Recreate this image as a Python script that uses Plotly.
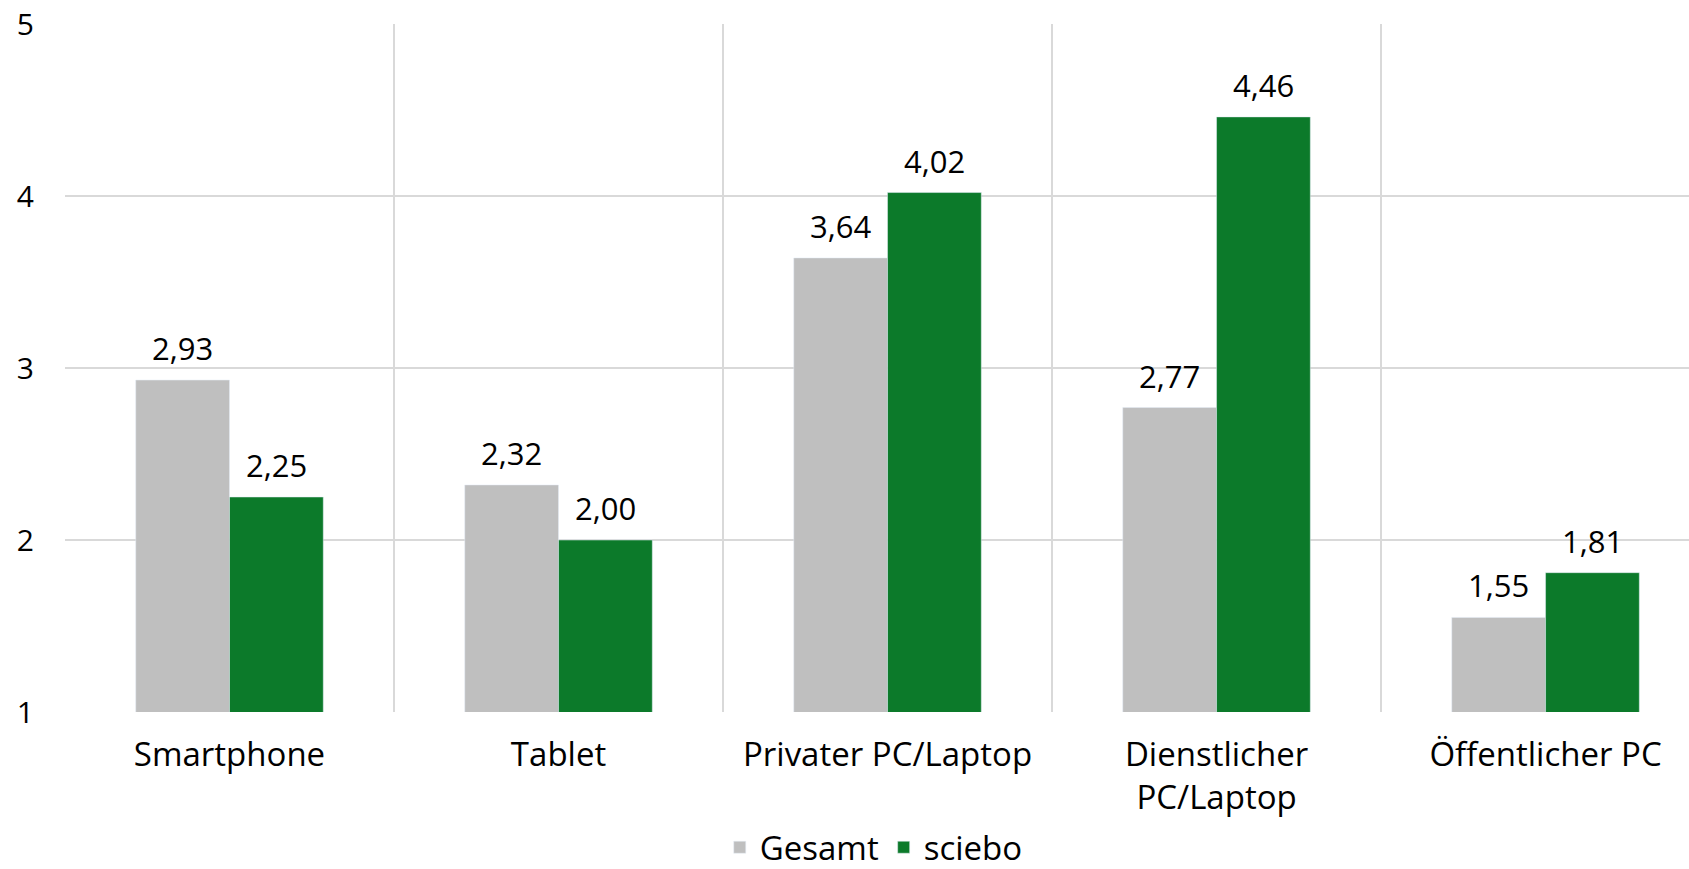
import plotly.graph_objects as go

categories = ["Smartphone", "Tablet", "Privater PC/Laptop", "Dienstlicher<br>PC/Laptop", "Öffentlicher PC"]
gesamt = [2.93, 2.32, 3.64, 2.77, 1.55]
sciebo = [2.25, 2.00, 4.02, 4.46, 1.81]
y_ticks = [1, 2, 3, 4, 5]

FONT = "Open Sans"
FS_CAT = 33
FS_NUM = 31
GRAY = "#BFBFBF"
GREEN = "#0C7A2A"
GRID = "#D9D9D9"
BARGAP = 0.43

xs = list(range(len(categories)))
fig = go.Figure()
fig.add_trace(go.Bar(x=xs, y=gesamt, name="Gesamt", marker_color=GRAY))
fig.add_trace(go.Bar(x=xs, y=sciebo, name="sciebo", marker_color=GREEN))

w = (1 - BARGAP) / 2
def fmt(v):
    return f"{v:.2f}".replace(".", ",")
for vals, off in ((gesamt, -w / 2), (sciebo, w / 2)):
    for i, v in enumerate(vals):
        fig.add_annotation(x=i + off, y=v, text=fmt(v), showarrow=False,
                           yanchor="bottom", yshift=9,
                           font=dict(family=FONT, size=FS_NUM, color="#000000"))

fig.update_layout(
    width=1689, height=869,
    margin=dict(l=65, r=0, t=24, b=157),
    paper_bgcolor="white", plot_bgcolor="white",
    barmode="group", bargap=BARGAP, bargroupgap=0,
    font=dict(family=FONT, size=FS_CAT, color="#000000"),
    showlegend=True,
    legend=dict(orientation="h", xref="paper", x=0.498, xanchor="center",
                yref="container", y=0.025, yanchor="middle", bgcolor="rgba(0,0,0,0)",
                font=dict(family=FONT, size=FS_CAT), traceorder="normal"),
    xaxis=dict(range=[-0.5, 4.436], tickvals=xs, ticktext=categories, automargin=False,
               showgrid=False, zeroline=False, showline=False, ticks="",
               ticklabelstandoff=20, tickfont=dict(family=FONT, size=FS_CAT)),
    xaxis2=dict(overlaying="x", matches="x", range=[-0.5, 4.436], automargin=False,
                tickvals=[i - 0.5 for i in xs], showgrid=True, gridcolor=GRID, gridwidth=2,
                showticklabels=False, zeroline=False, showline=False, ticks=""),
    yaxis=dict(range=[1, 5], tickvals=y_ticks, showgrid=True, gridcolor=GRID, gridwidth=2,
               automargin=False,
               zeroline=False, showline=False, ticks="", ticklabelstandoff=30,
               tickfont=dict(family=FONT, size=FS_NUM - 1)),
)
fig.add_trace(go.Scatter(x=[], y=[], xaxis="x2", showlegend=False))
fig.write_html("out.html", config={"displayModeBar": False},
               post_script="document.body.style.margin='0';document.body.style.overflow='hidden';")
